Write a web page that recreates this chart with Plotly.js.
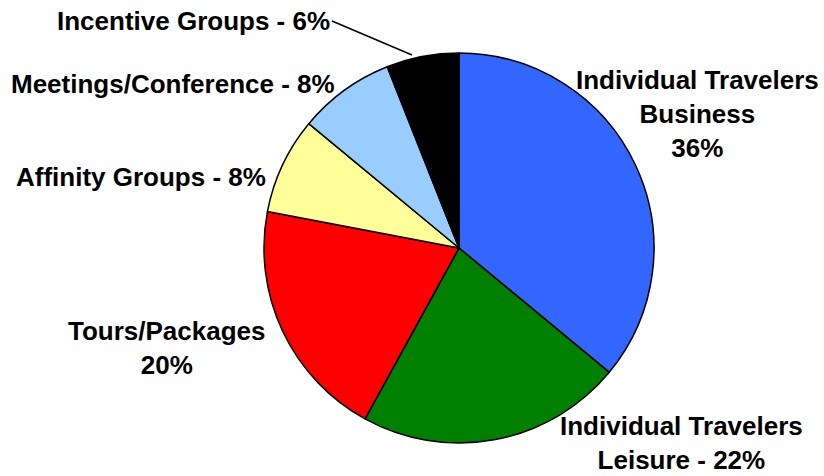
<!DOCTYPE html>
<html>
<head>
<meta charset="utf-8">
<script src="https://cdn.plot.ly/plotly-3.0.1.min.js"></script>
<style>html,body{margin:0;padding:0;background:#fff;}#chart{width:824px;height:476px;}</style>
</head>
<body>
<div id="chart"></div>
<script>
var categories = ["Individual Travelers Business", "Individual Travelers Leisure", "Tours/Packages", "Affinity Groups", "Meetings/Conference", "Incentive Groups"];
var shares = [36, 22, 20, 8, 8, 6];
var sliceColors = ["#3366FF", "#008000", "#FF0000", "#FFFF99", "#99CCFF", "#000000"];
var labelTexts = [
  "Individual Travelers<br>Business<br>36%",
  "Individual Travelers<br>Leisure - 22%",
  "Tours/Packages<br>20%",
  "Affinity Groups - 8%",
  "Meetings/Conference - 8%",
  "Incentive Groups - 6%"
];

var W = 824, H = 476;
function px(x) { return x / W; }
function py(y) { return 1 - y / H; }

// label placement (pixel positions of label centres)
var labelPos = [[697, 114], [681, 443], [167, 348], [141, 177], [173, 84], [191, 19]];

var font = {family: "Arial, 'Liberation Sans', sans-serif", size: 26, color: "#000", weight: "bold"};

var annotations = [];
for (var i = 0; i < 5; i++) {
  annotations.push({
    xref: "paper", yref: "paper",
    x: px(labelPos[i][0]), y: py(labelPos[i][1]),
    xanchor: "center", yanchor: "middle",
    text: labelTexts[i], showarrow: false, font: font, align: "center"
  });
}
// Incentive label with leader line
annotations.push({
  xref: "paper", yref: "paper",
  x: px(412), y: py(55),
  ax: -80, ay: -34,
  xanchor: "right", yanchor: "middle",
  text: labelTexts[5], showarrow: true, arrowhead: 0, arrowwidth: 1.5, arrowcolor: "#000",
  standoff: 0, startstandoff: 0,
  font: font
});

var cx = 459, cy = 248, r = 195;
var data = [{
  type: "pie",
  labels: categories,
  values: shares,
  sort: false,
  direction: "clockwise",
  rotation: 0,
  marker: {colors: sliceColors, line: {color: "#000", width: 1.5}},
  textinfo: "none",
  hoverinfo: "label+percent",
  showlegend: false,
  domain: {x: [px(cx - r), px(cx + r)], y: [py(cy + r), py(cy - r)]}
}];

var layout = {
  width: W, height: H,
  margin: {l: 0, r: 0, t: 0, b: 0},
  paper_bgcolor: "#fff",
  showlegend: false,
  annotations: annotations
};

Plotly.newPlot("chart", data, layout, {displayModeBar: false, staticPlot: true});
</script>
</body>
</html>
